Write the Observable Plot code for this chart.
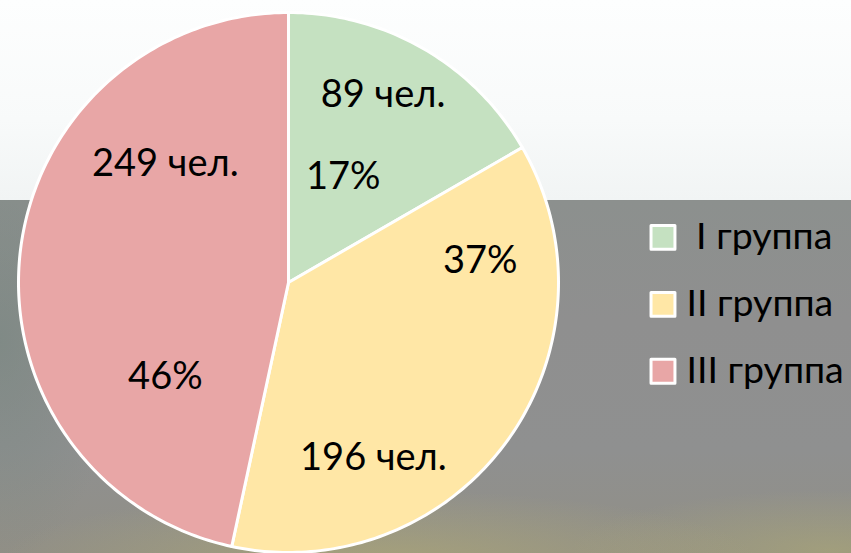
<!DOCTYPE html>
<html>
<head>
<meta charset="utf-8">
<script src="https://cdn.jsdelivr.net/npm/d3@7"></script>
<script src="https://cdn.jsdelivr.net/npm/@observablehq/plot@0.6"></script>
<style>
  html, body { margin: 0; padding: 0; }
  #wrap {
    position: relative; width: 851px; height: 553px; overflow: hidden;
    background: linear-gradient(to bottom, #fdfefe 0px, #f8fafa 120px, #f1f4f4 200px);
  }
  #ground {
    position: absolute; left: 0; top: 200px; width: 851px; height: 353px;
    background:
      radial-gradient(ellipse 380px 70px at 380px 360px, rgba(190,182,110,0.45), rgba(190,182,110,0) 100%),
      radial-gradient(ellipse 260px 60px at 830px 350px, rgba(185,180,110,0.4), rgba(185,180,110,0) 100%),
      radial-gradient(ellipse 120px 220px at 0px 140px, rgba(105,130,120,0.4), rgba(105,130,120,0) 100%),
      linear-gradient(to bottom, #8c908e 0px, #8f8f8f 120px, #8f9090 250px, #918f86 353px);
  }
  #wrap svg { position: absolute; left: 0; top: 0; }
</style>
</head>
<body>
<div id="wrap"><div id="ground"></div></div>
<script>
// ---- data ----
const groups = ["I группа", "II группа", "III группа"];
const counts = [89, 196, 249];
const countLabels = ["89 чел.", "196 чел.", "249 чел."];
const percentLabels = ["17%", "37%", "46%"];
const colors = ["#c5e1c1", "#ffe7a6", "#e8a6a6"];
// manual label anchors (angle in degrees clockwise from top, radius as fraction)
const countLabelAngle = [26.7, 154.1, 314];
const countLabelRadius = [0.78, 0.72, 0.634];
const percentLabelAngle = [27.4, 83.5, 232.6];
const percentLabelRadius = [0.44, 0.715, 0.574];

// ---- build slices ----
const total = d3.sum(counts);
let acc = 0;
const slicePts = [];
groups.forEach((g, i) => {
  const a0 = acc / total * 2 * Math.PI;
  acc += counts[i];
  const a1 = acc / total * 2 * Math.PI;
  const n = Math.max(8, Math.ceil((a1 - a0) / (Math.PI / 180)));
  slicePts.push({group: g, x: 0, y: 0});
  for (let k = 0; k <= n; k++) {
    const a = a0 + (a1 - a0) * k / n;
    slicePts.push({group: g, x: Math.sin(a), y: Math.cos(a)});
  }
});

const polar = (deg, r) => ({x: r * Math.sin(deg * Math.PI / 180), y: r * Math.cos(deg * Math.PI / 180)});
const labels = [];
groups.forEach((g, i) => {
  labels.push({text: countLabels[i], ...polar(countLabelAngle[i], countLabelRadius[i])});
  labels.push({text: percentLabels[i], ...polar(percentLabelAngle[i], percentLabelRadius[i])});
});

const legendY0 = 0.167, legendStep = 0.248;
const legendRows = groups.map((g, i) => ({
  group: g,
  text: i === 0 ? "\u00a0" + g : g,
  y: legendY0 - i * legendStep
}));

const chart = Plot.plot({
  width: 851,
  height: 553,
  margin: 0,
  style: {background: "transparent", fontFamily: "Lato, 'Open Sans', sans-serif"},
  x: {domain: [-1, 1], range: [18, 558], axis: null},
  y: {domain: [-1, 1], range: [552, 12], axis: null},
  color: {domain: groups, range: colors},
  marks: [
    Plot.line(slicePts, {
      x: "x", y: "y", z: "group", fill: "group",
      stroke: "white", strokeWidth: 3, strokeLinejoin: "round",
      curve: "linear-closed"
    }),
    Plot.text(labels, {
      x: "x", y: "y", text: "text",
      fontSize: 38, fill: "black", textAnchor: "middle", lineAnchor: "middle"
    }),
    Plot.dot(legendRows, {
      x: () => 1.387, y: "y", fill: "group", symbol: "square", r: 13.5,
      stroke: "white", strokeWidth: 3, strokeLinejoin: "round"
    }),
    Plot.text(legendRows, {
      x: () => 1.474, y: "y", text: "text",
      fontSize: 37.5, fill: "black", textAnchor: "start", lineAnchor: "middle"
    })
  ]
});
document.getElementById("wrap").appendChild(chart);
</script>
</body>
</html>
